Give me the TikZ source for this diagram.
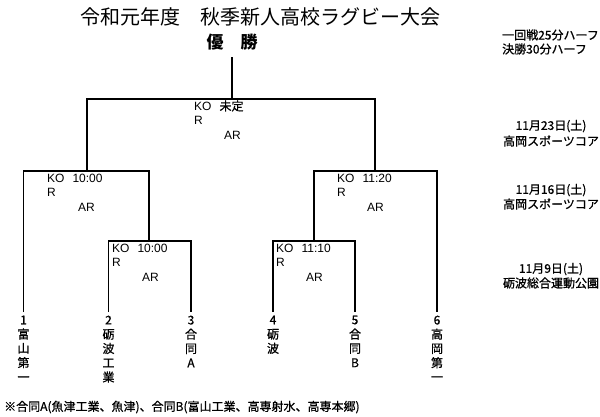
\documentclass[tikz,border=0pt]{standalone}
\usepackage{fontspec}
\setmainfont{Noto Sans CJK JP}
\newfontfamily\jpm{Noto Sans CJK JP}[RawFeature={embolden=0.8}]
\newfontfamily\latf{Liberation Sans}
\begin{document}
\begin{tikzpicture}[x=1bp,y=-1bp,
  lw/.style={line width=1.2bp},
  txt/.style={inner sep=0pt, font=\fontsize{12bp}{14.3bp}\selectfont\jpm},
  info/.style={txt, anchor=west},
  lat/.style={inner sep=0pt, anchor=west, font=\fontsize{12bp}{14.3bp}\selectfont\latf},
  leaf/.style={txt, anchor=north, align=center, inner ysep=3.5bp}]
\useasboundingbox (0,0) rectangle (600,416);
% titles
\node[inner sep=0pt, font=\fontsize{20bp}{24bp}\selectfont] (title) at (260.5,17) {令和元年度　秋季新人高校ラグビー大会};
\node[inner xsep=0pt, inner ysep=7bp, font=\fontsize{17bp}{20bp}\selectfont\bfseries] (champ) at (232,42) {優　勝};
% junctions
\coordinate (fin) at (232,99);
\coordinate (sf1) at (87,171);
\coordinate (sf2) at (375,171);
\coordinate (qf1) at (149,241);
\coordinate (qf2) at (314,241);
% leaves
\node[leaf] (l1) at (23.5,312) {1\\富\\山\\第\\一};
\node[leaf] (l2) at (108.5,312) {2\\砺\\波\\工\\業};
\node[leaf] (l3) at (191,312) {3\\合\\同\\A};
\node[leaf] (l4) at (273,312) {4\\砺\\波};
\node[leaf] (l5) at (355,312) {5\\合\\同\\B};
\node[leaf] (l6) at (437,312) {6\\高\\岡\\第\\一};
% bracket
\draw[lw] (champ.south) -- (fin);
\draw[lw] (sf1) |- (fin) -| (sf2);
\draw[lw] (l1.north) |- (sf1) -| (qf1);
\draw[lw] (qf2) |- (sf2) -| (l6.north);
\draw[lw] (l2.north) |- (qf1) -| (l3.north);
\draw[lw] (l4.north) |- (qf2) -| (l5.north);
% match info
\node[lat] (fk) at (194,106) {KO\hspace{8bp}{\jpm 未定}};
\node[lat] (fr) at (194,120) {R};
\node[lat] (fa) at (224,135) {AR};
\node[lat] (s1k) at (47,178) {KO\hspace{8bp}10:00};
\node[lat] (s1r) at (47,192) {R};
\node[lat] (s1a) at (78,207) {AR};
\node[lat] (s2k) at (337,178) {KO\hspace{8bp}11:20};
\node[lat] (s2r) at (337,192) {R};
\node[lat] (s2a) at (367,207) {AR};
\node[lat] (q1k) at (112,248) {KO\hspace{8bp}10:00};
\node[lat] (q1r) at (112,262) {R};
\node[lat] (q1a) at (142,277) {AR};
\node[lat] (q2k) at (276,248) {KO\hspace{8bp}11:10};
\node[lat] (q2r) at (276,262) {R};
\node[lat] (q2a) at (306,277) {AR};
% side notes
\node[info] (rule1) at (502,35) {一回戦25分ハーフ};
\node[info] (rule2) at (502,49) {決勝30分ハーフ};
\node[txt] (d1a) at (551,126) {11月23日(土)};
\node[txt] (d1b) at (551,141) {高岡スポーツコア};
\node[txt] (d2a) at (551,190) {11月16日(土)};
\node[txt] (d2b) at (551,204) {高岡スポーツコア};
\node[txt] (d3a) at (551,269) {11月9日(土)};
\node[txt] (d3b) at (551,283) {砺波総合運動公園};
% footnote
\node[info] (note) at (4,407) {※合同A(魚津工業、魚津)、合同B(富山工業、高専射水、高専本郷)};
\end{tikzpicture}
\end{document}
